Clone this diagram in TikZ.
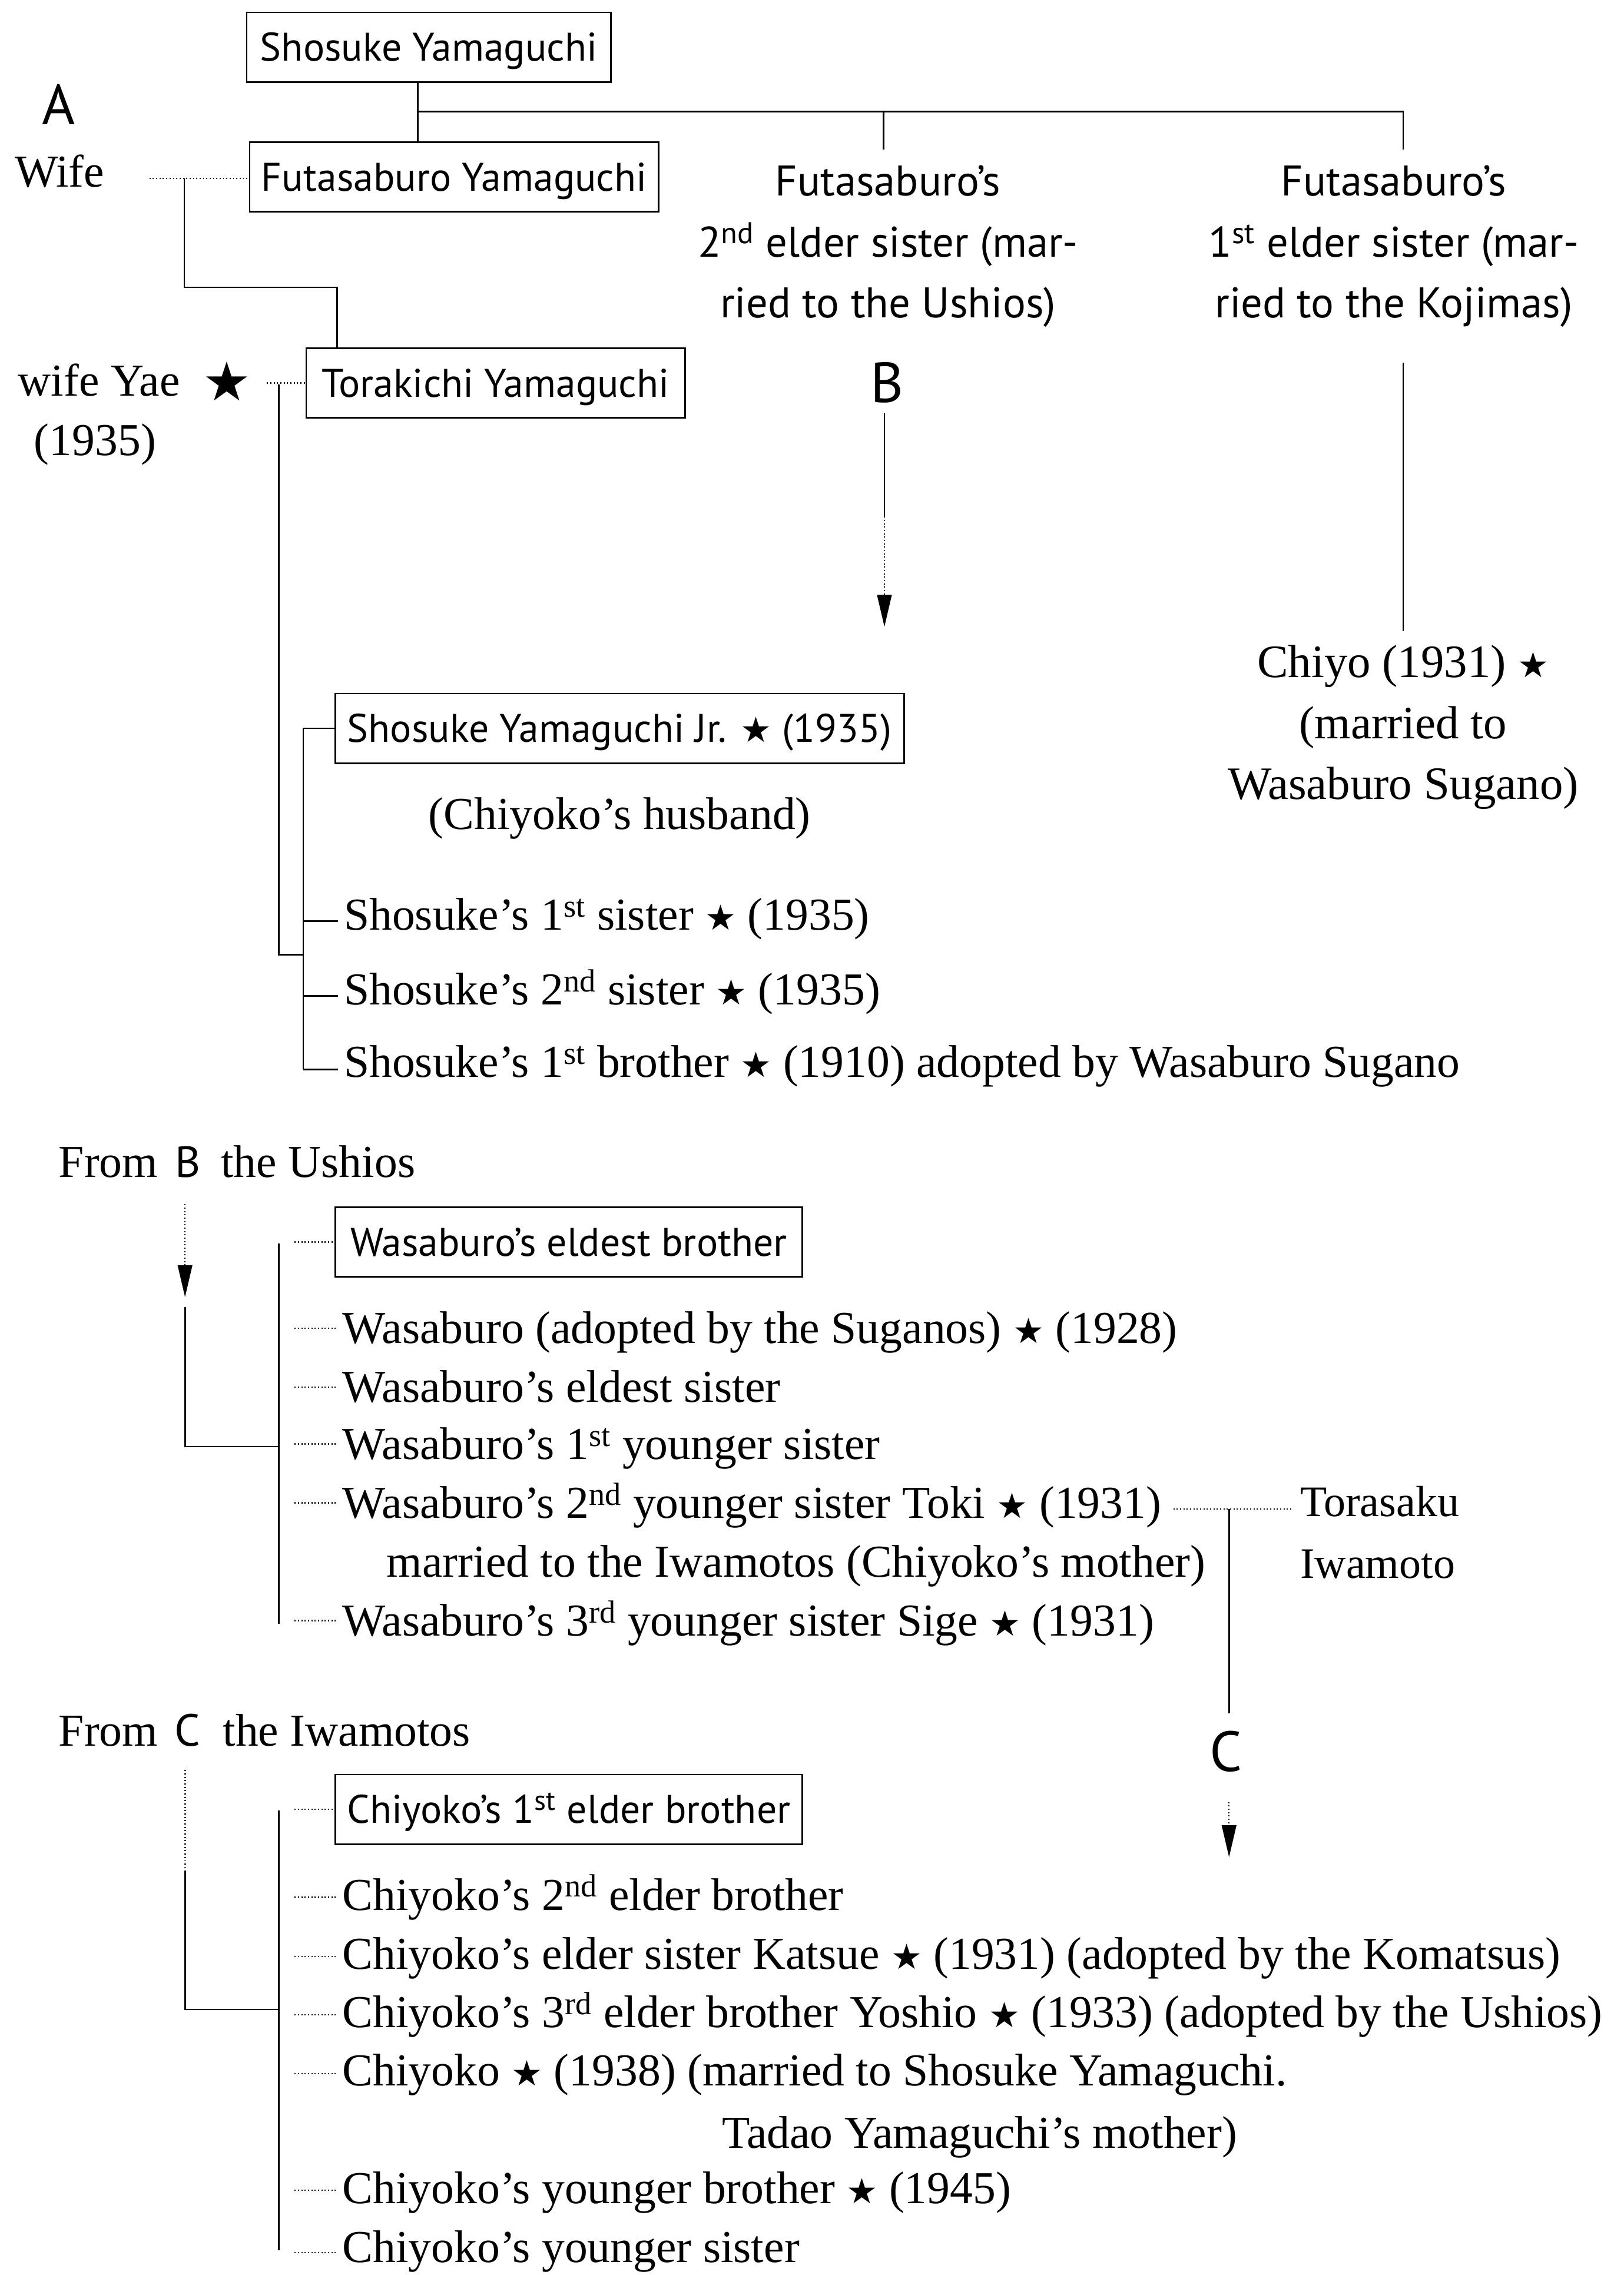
\documentclass[tikz,border=0pt]{standalone}
\usepackage{fontspec}
\setmainfont{Liberation Serif}
\newfontfamily\sansf{PT Sans}
\newfontfamily\symf{DejaVu Sans}
\usetikzlibrary{arrows.meta,calc}
\newcommand{\str}{{\symf\fontsize{24}{24}\selectfont ★}}
\newcommand{\bigstr}{{\symf\fontsize{37}{37}\selectfont ★}}
\newcommand{\su}[1]{\textsuperscript{#1}}
\newcommand{\clines}[1]{\begin{tabular}[t]{@{}c@{}}#1\end{tabular}}
\newcommand{\llines}[1]{\begin{tabular}[t]{@{}l@{}}#1\end{tabular}}
\tikzset{
  box/.style={draw, line width=1.1pt, inner sep=0pt, minimum height=48pt,
    text height=19.3pt, text depth=0pt, font=\sansf\fontsize{27.5}{30}\selectfont},
  txt/.style={anchor=base west, inner sep=0pt, font=\fontsize{31.5}{40}\selectfont},
  coltxt/.style={anchor=base, inner sep=0pt, font=\sansf\fontsize{29.5}{42}\selectfont},
  big/.style={anchor=base, inner sep=0pt, font=\sansf\fontsize{39}{39}\selectfont},
  dots/.style={line width=0.9pt, dash pattern=on 0.8pt off 1.5pt},
  tip/.style={-{Triangle[length=22pt,width=10pt]}}
}
\newcommand{\dtick}[2]{\draw[dots] ($(#1.base west)+(-32.5,#2)$) -- ($(#1.base west)+(-3.7,#2)$);}
\newcommand{\stick}[2]{\draw ($(#1.base west)+(-27.5,#2)$) -- ($(#1.base west)+(-3.5,#2)$);}
\begin{document}
\begin{tikzpicture}[x=1pt,y=-1pt,line width=1.1pt]
\useasboundingbox (0,0) rectangle (1119,1568);

% ---------- top section ----------
\node[box, minimum width=251pt] (sho) at (295.5,32.5) {Shosuke Yamaguchi};
\node[box, minimum width=282pt] (futa) at (313,122) {Futasaburo Yamaguchi};
\node[box, minimum width=261pt] (tora) at (341.5,264) {Torakichi Yamaguchi};
\node[box, minimum width=392pt] (jr) at (427,502) {Shosuke Yamaguchi Jr. \str\ (1935)};

\node[big] (A) at (40.5,86) {A};
\node[txt, anchor=base] (wife) at (41,129) {Wife};
\node[txt] (yae) at (12,273) {wife Yae};
\node[inner sep=0pt] (ystar) at (156.5,263) {\bigstr};
\node[txt, anchor=base] (y1935) at (65.5,314) {(1935)};

\node[coltxt] (sis2) at (612,135) {\clines{Futasaburo’s\\2\su{nd} elder sister (mar-\\ried to the Ushios)}};
\node[coltxt] (sis1) at (960.5,135) {\clines{Futasaburo’s\\1\su{st} elder sister (mar-\\ried to the Kojimas)}};
\node[big] (B) at (611.5,277.5) {B};
\node[txt, anchor=base, font=\fontsize{32}{42}\selectfont] (chiyo) at (967,467) {\clines{Chiyo (1931) \str\\(married to\\Wasaburo Sugano)}};

\node[txt, anchor=base] (husb) at (427,571.5) {(Chiyoko’s husband)};
\node[txt] (s1) at (236.5,641) {Shosuke’s 1\su{st} sister \str\ (1935)};
\node[txt] (s2) at (236.5,692.5) {Shosuke’s 2\su{nd} sister \str\ (1935)};
\node[txt] (s3) at (236.5,742.5) {Shosuke’s 1\su{st} brother \str\ (1910) adopted by Wasaburo Sugano};

% connectors top
\coordinate (j1) at (288,77);
\coordinate (t1) at (967,103);
\coordinate (t2) at (609,103);
\draw (sho.south -| j1) -- (futa.north -| j1);
\draw (j1) -| (t1);
\draw (j1 -| t2) -- (t2);
\coordinate (wd) at (103,123);
\draw[dots] (wd) -- (futa.west |- wd);
\coordinate (m1) at (127,123);
\coordinate (m2) at (127,198);
\draw (m1) -- (m2) -| ([xshift=22pt]tora.north west);
\coordinate (yd) at (184,264);
\draw[dots] (yd) -- (tora.west);
\coordinate (v1) at (192,265);
\coordinate (v2) at (192,658);
\coordinate (v3) at (209,658);
\draw (v1) -- (v2) -- (v3);
\coordinate (v4) at (209,502);
\coordinate (v5) at (209,737);
\draw (v4) -- (v5);
\draw (v4) -- (jr.west);
\stick{s1}{-6}
\stick{s2}{-6}
\stick{s3}{-5.5}
\coordinate (b1) at (609.5,285);
\coordinate (b2) at (609.5,356);
\coordinate (b3) at (609.5,432);
\draw (b1) -- (b2);
\draw[dots, tip] (b2) -- (b3);
\coordinate (k1) at (967,250);
\coordinate (k2) at (967,435);
\draw (k1) -- (k2);

% ---------- middle section ----------
\node[txt] (fromB) at (40,811.5) {From\hspace{12pt}{\sansf\fontsize{30}{30}\selectfont B}\hspace{14pt}the Ushios};
\node[box, minimum width=322pt] (web) at (392,856) {Wasaburo’s eldest brother};
\node[txt] (w1) at (235.5,926) {Wasaburo (adopted by the Suganos) \str\ (1928)};
\node[txt] (w2) at (235.5,966.4) {Wasaburo’s eldest sister};
\node[txt] (w3) at (235.5,1005.7) {Wasaburo’s 1\su{st} younger sister};
\node[txt] (w4) at (235.5,1046.3) {Wasaburo’s 2\su{nd} younger sister Toki \str\ (1931)};
\node[txt] (w4b) at (266,1087) {married to the Iwamotos (Chiyoko’s mother)};
\node[txt] (w5) at (235.5,1127.4) {Wasaburo’s 3\su{rd} younger sister Sige \str\ (1931)};
\node[txt, font=\fontsize{30}{42.4}\selectfont] (tor) at (895.5,1045.2) {\llines{Torasaku\\Iwamoto}};

\coordinate (ba1) at (127.5,830);
\coordinate (ba2) at (127.5,894);
\draw[dots, tip] (ba1) -- (ba2);
\coordinate (ba3) at (127.5,901);
\coordinate (ba4) at (127.5,997);
\coordinate (ba5) at (192,997);
\draw (ba3) -- (ba4) -- (ba5);
\coordinate (wv1) at (192,857);
\coordinate (wv2) at (192,1119);
\draw (wv1) -- (wv2);
\coordinate (wd1) at (203,856);
\draw[dots] (wd1) -- (web.west);
\dtick{w1}{-10.5}
\dtick{w2}{-10.5}
\dtick{w3}{-10.5}
\dtick{w4}{-10.5}
\dtick{w5}{-10.5}
\coordinate (tk1) at (808.6,1040);
\coordinate (tk2) at (890.6,1040);
\draw[dots] (tk1) -- (tk2);
\coordinate (cv1) at (847,1040);
\coordinate (cv2) at (847,1181);
\draw (cv1) -- (cv2);
\node[big] (C) at (845,1221) {C};
\coordinate (ca1) at (847,1242);
\coordinate (ca2) at (847,1280);
\draw[dots, tip] (ca1) -- (ca2);

% ---------- bottom section ----------
\node[txt] (fromC) at (40,1203.5) {From\hspace{11.6pt}{\sansf\fontsize{31}{31}\selectfont C}\hspace{15.5pt}the Iwamotos};
\node[box, minimum width=322pt] (ceb) at (392,1247) {Chiyoko’s 1\su{st} elder brother};
\node[txt] (c2) at (235.5,1316.4) {Chiyoko’s 2\su{nd} elder brother};
\node[txt] (c3) at (235.5,1357) {Chiyoko’s elder sister Katsue \str\ (1931) (adopted by the Komatsus)};
\node[txt] (c4) at (235.5,1397.3) {Chiyoko’s 3\su{rd} elder brother Yoshio \str\ (1933) (adopted by the Ushios)};
\node[txt] (c5) at (235.5,1437.7) {Chiyoko \str\ (1938) (married to Shosuke Yamaguchi.};
\node[txt] (c5b) at (497,1480.4) {Tadao Yamaguchi’s mother)};
\node[txt] (c6) at (235.5,1518.5) {Chiyoko’s younger brother \str\ (1945)};
\node[txt] (c7) at (235.5,1559.2) {Chiyoko’s younger sister};

\coordinate (cc1) at (127.6,1220);
\coordinate (cc2) at (127.6,1287);
\draw[dots] (cc1) -- (cc2);
\coordinate (cc3) at (127.6,1289);
\coordinate (cc4) at (127.6,1385);
\coordinate (cc5) at (192,1385);
\draw (cc3) -- (cc4) -- (cc5);
\coordinate (cv3) at (192,1248);
\coordinate (cv4) at (192,1551);
\draw (cv3) -- (cv4);
\coordinate (cd1) at (203,1247);
\draw[dots] (cd1) -- (ceb.west);
\dtick{c2}{-8.7}
\dtick{c3}{-8.5}
\dtick{c4}{-8.7}
\dtick{c5}{-8.4}
\dtick{c6}{-9.1}
\dtick{c7}{-6.6}
\end{tikzpicture}
\end{document}
